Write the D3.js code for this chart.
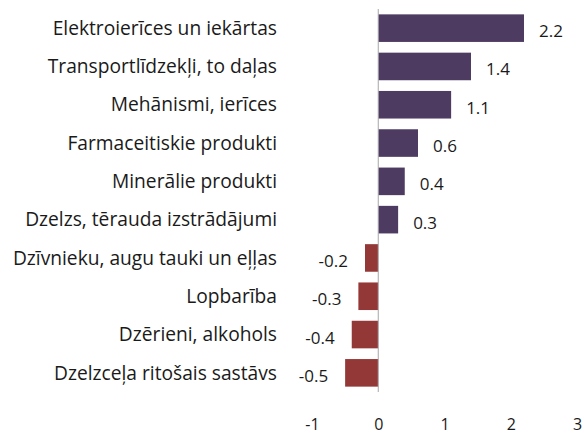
<!DOCTYPE html>
<html lang="lv">
<head>
<meta charset="UTF-8">
<title>Bar chart</title>
<script src="https://d3js.org/d3.v7.min.js"></script>
<style>
  body { margin: 0; background: #fff; }
  #chart text { font-family: "Open Sans", "Noto Sans", sans-serif; fill: #1a1a1a; }
</style>
</head>
<body>
<div id="chart"></div>
<script>
// data
var categories = [
  "Elektroierīces un iekārtas",
  "Transportlīdzekļi, to daļas",
  "Mehānismi, ierīces",
  "Farmaceitiskie produkti",
  "Minerālie produkti",
  "Dzelzs, tērauda izstrādājumi",
  "Dzīvnieku, augu tauki un eļļas",
  "Lopbarība",
  "Dzērieni, alkohols",
  "Dzelzceļa ritošais sastāvs"
];
var values = [2.2, 1.4, 1.1, 0.6, 0.4, 0.3, -0.2, -0.3, -0.4, -0.5];
var ticks = [-1, 0, 1, 2, 3];

var width = 584, height = 434;
var svg = d3.select("#chart").append("svg")
  .attr("width", width)
  .attr("height", height);

var x = d3.scaleLinear().domain([-1, 3]).range([312, 577]);
var y = d3.scaleBand().domain(categories).range([9, 392]).paddingInner(0.28).paddingOuter(0.14);

// bars
svg.selectAll("rect.bar")
  .data(values)
  .enter().append("rect")
  .attr("class", "bar")
  .attr("x", function (d) { return x(Math.min(0, d)); })
  .attr("y", function (d, i) { return y(categories[i]); })
  .attr("width", function (d) { return Math.abs(x(d) - x(0)); })
  .attr("height", y.bandwidth())
  .attr("fill", function (d) { return d >= 0 ? "#4e3b62" : "#943737"; });

// zero line
svg.append("line")
  .attr("x1", x(0)).attr("x2", x(0))
  .attr("y1", 9).attr("y2", 392)
  .attr("stroke", "#a6a6a6")
  .attr("stroke-width", 1);

// value labels
svg.selectAll("text.val")
  .data(values)
  .enter().append("text")
  .attr("class", "val")
  .attr("x", function (d) { return d >= 0 ? x(d) + 15 : x(d) - 17; })
  .attr("y", function (d, i) { return y(categories[i]) + y.bandwidth() / 2 + 3; })
  .attr("dy", "0.35em")
  .attr("text-anchor", function (d) { return d >= 0 ? "start" : "end"; })
  .style("font-size", "17px")
  .text(function (d) { return d.toFixed(1); });

// category labels
svg.selectAll("text.cat")
  .data(categories)
  .enter().append("text")
  .attr("class", "cat")
  .attr("x", 277)
  .attr("y", function (d) { return y(d) + y.bandwidth() / 2; })
  .attr("dy", "0.35em")
  .attr("text-anchor", "end")
  .style("font-size", "19.2px")
  .text(function (d) { return d; });

// x axis (labels only)
var axis = svg.append("g")
  .attr("transform", "translate(0,419)")
  .call(d3.axisBottom(x).tickValues(ticks).tickSize(0).tickPadding(0)
    .tickFormat(function (d) { return String(d); }));
axis.select(".domain").remove();
axis.selectAll("text")
  .style("font-size", "16px")
  .style("font-family", "\"Open Sans\", sans-serif")
  .attr("fill", "#1a1a1a");
</script>
</body>
</html>
